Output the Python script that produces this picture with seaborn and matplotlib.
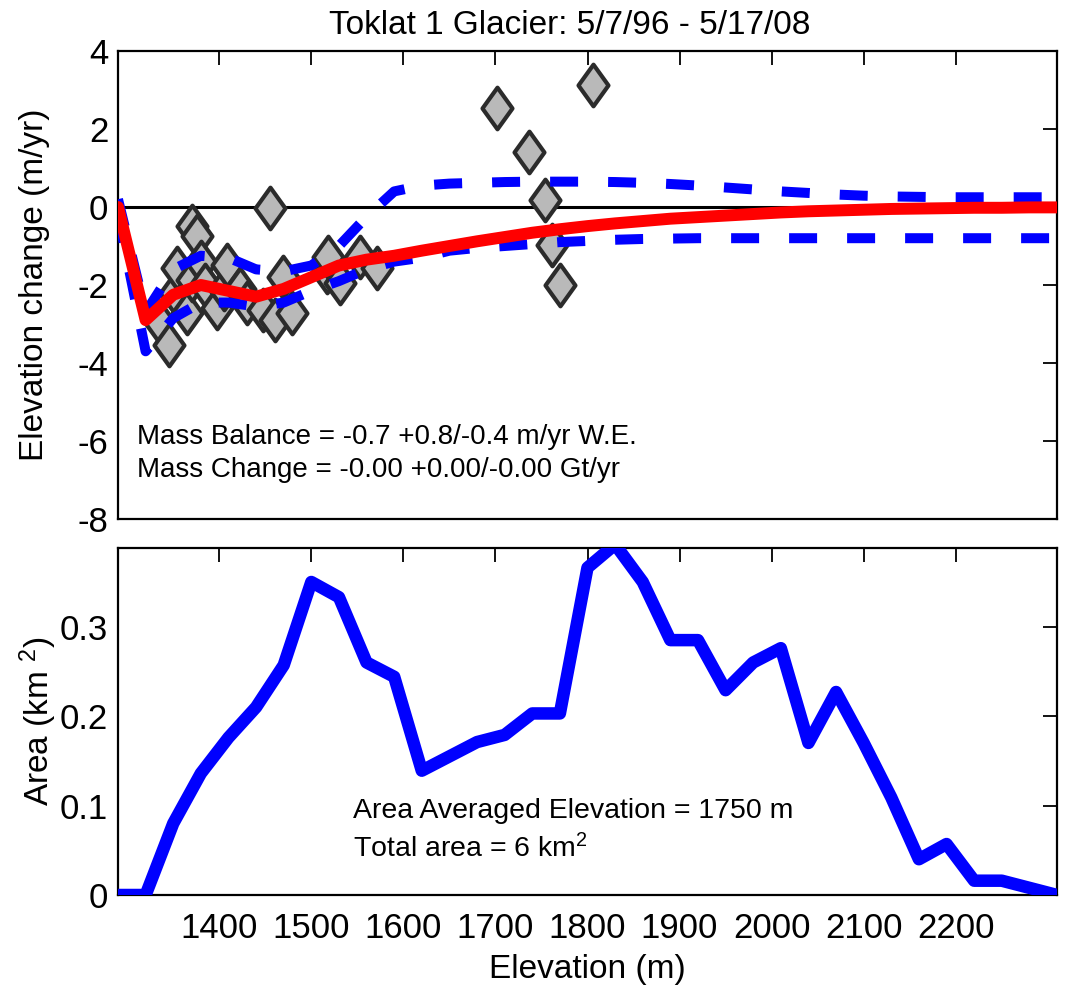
import matplotlib
matplotlib.use("Agg")
import matplotlib.pyplot as plt
from matplotlib.path import Path
import seaborn as sns

# ---------------- data ----------------
title = "Toklat 1 Glacier: 5/7/96 - 5/17/08"

elev_bins = [1290, 1320, 1350, 1380, 1410, 1440, 1470, 1500, 1530, 1560,
             1590, 1620, 1650, 1680, 1710, 1740, 1770, 1800, 1830, 1860,
             1890, 1920, 1950, 1980, 2010, 2040, 2070, 2100, 2130, 2160,
             2190, 2220, 2250, 2280, 2310]

area_km2 = [0.0, 0.0, 0.080, 0.136, 0.176, 0.210, 0.257, 0.350, 0.333, 0.260,
            0.244, 0.139, 0.155, 0.171, 0.179, 0.203, 0.203, 0.366, 0.392, 0.350,
            0.285, 0.285, 0.229, 0.260, 0.276, 0.170, 0.227, 0.170, 0.109, 0.040,
            0.057, 0.016, 0.016, 0.008, 0.0]

dh_mean = [0.0, -2.9, -2.25, -2.0, -2.15, -2.3, -2.1, -1.8, -1.5, -1.35,
           -1.25, -1.12, -1.0, -0.88, -0.77, -0.66, -0.57, -0.49, -0.42, -0.36,
           -0.30, -0.26, -0.22, -0.18, -0.14, -0.11, -0.09, -0.07, -0.05, -0.04,
           -0.03, -0.02, -0.02, -0.01, -0.01]

dh_upper = [0.2, -2.7, -1.6, -1.25, -1.3, -1.6, -1.65, -1.5, -1.0, -0.25,
            0.4, 0.55, 0.6, 0.62, 0.64, 0.65, 0.65, 0.65, 0.64, 0.62,
            0.59, 0.55, 0.5, 0.45, 0.4, 0.36, 0.32, 0.29, 0.27, 0.26,
            0.25, 0.25, 0.25, 0.25, 0.25]

dh_lower = [-0.2, -3.7, -2.85, -2.45, -2.45, -2.55, -2.45, -2.15, -1.9, -1.6,
            -1.4, -1.3, -1.12, -1.05, -1.0, -0.95, -0.9, -0.87, -0.84, -0.82,
            -0.81, -0.8, -0.8, -0.8, -0.8, -0.8, -0.8, -0.8, -0.8, -0.8,
            -0.8, -0.8, -0.8, -0.8, -0.8]

pt_elev = [1333, 1345, 1352, 1354, 1365, 1370, 1370, 1376, 1380, 1385,
           1397, 1405, 1408, 1422, 1430, 1448, 1455, 1460, 1469, 1479,
           1517, 1518, 1531, 1553, 1571, 1702, 1736, 1754, 1761, 1770, 1806]
pt_dh = [-2.9, -3.54, -2.2, -1.57, -2.73, -1.87, -0.48, -0.74, -1.4, -2.0,
         -2.6, -2.1, -1.49, -2.1, -2.46, -2.64, -0.03, -2.9, -1.79, -2.73,
         -1.66, -1.27, -1.95, -1.27, -1.57, 2.54, 1.41, 0.18, -0.97, -2.0, 3.13]

x_ticks = [1400, 1500, 1600, 1700, 1800, 1900, 2000, 2100, 2200]
y_ticks_top = [4, 2, 0, -2, -4, -6, -8]
y_ticks_bottom = [0, 0.1, 0.2, 0.3]
y_ticklabels_bottom = ["0", "0.1", "0.2", "0.3"]

text_mb = "Mass Balance = -0.7 +0.8/-0.4 m/yr W.E."
text_mc = "Mass Change = -0.00 +0.00/-0.00 Gt/yr"
text_ae = "Area Averaged Elevation = 1750 m"
text_ta = "Total area = 6 km$^2$"

# ---------------- style ----------------
sns.set_style("white")
plt.rcParams["font.family"] = ["Liberation Sans", "DejaVu Sans"]
plt.rcParams["mathtext.fontset"] = "custom"
plt.rcParams["mathtext.rm"] = "Liberation Sans"
plt.rcParams["mathtext.it"] = "Liberation Sans:italic"
plt.rcParams["axes.unicode_minus"] = False
plt.rcParams["text.color"] = "black"
plt.rcParams["axes.labelcolor"] = "black"

fig = plt.figure(figsize=(10.66, 9.94), dpi=100)
ax1 = fig.add_axes([118 / 1066, 1 - 519 / 994, 939 / 1066, 468 / 994])
ax2 = fig.add_axes([118 / 1066, 1 - 895 / 994, 939 / 1066, 347 / 994])

# ---------------- top panel ----------------
ax1.axhline(0, color="black", lw=2.2, zorder=1)

diamond = Path([(0, 1), (0.72, 0), (0, -1), (-0.72, 0), (0, 1)],
               [Path.MOVETO, Path.LINETO, Path.LINETO, Path.LINETO, Path.CLOSEPOLY])
sns.scatterplot(x=pt_elev, y=pt_dh, ax=ax1, marker=diamond, s=900,
                color="#b9b9b9", edgecolor="#2b2b2b", linewidth=3.0,
                zorder=2, legend=False)

sns.lineplot(x=elev_bins, y=dh_upper, ax=ax1, color="#0000ff", lw=7.2,
             linestyle=(0, (2.8, 3.0)), errorbar=None, zorder=3)
sns.lineplot(x=elev_bins, y=dh_lower, ax=ax1, color="#0000ff", lw=7.2,
             linestyle=(0, (2.8, 3.0)), errorbar=None, zorder=3)
sns.lineplot(x=elev_bins, y=dh_mean, ax=ax1, color="#ff0000", lw=8.6,
             errorbar=None, zorder=4)

ax1.set_xlim(1290, 2310)
ax1.set_ylim(-8, 4)
ax1.set_xticks(x_ticks)
ax1.set_xticklabels([])
ax1.set_yticks(y_ticks_top)
ax1.set_yticklabels([str(v) for v in y_ticks_top])
ax1.set_ylabel("Elevation change (m/yr)", fontsize=24, labelpad=20)
ax1.set_xlabel("")

ax1.text(1311, -5.9, text_mb, fontsize=20, ha="left", va="center")
ax1.text(1311, -6.75, text_mc, fontsize=20, ha="left", va="center")

fig.text(570 / 1066, 1 - 26 / 994, title, fontsize=24, ha="center", va="center")

# ---------------- bottom panel ----------------
sns.lineplot(x=elev_bins, y=area_km2, ax=ax2, color="#0000ff", lw=9,
             errorbar=None, zorder=3)
ax2.set_xlim(1290, 2310)
ax2.set_ylim(0, 0.388)
ax2.set_xticks(x_ticks)
ax2.set_xticklabels([str(v) for v in x_ticks])
ax2.set_yticks(y_ticks_bottom)
ax2.set_yticklabels(y_ticklabels_bottom)
ax2.set_xlabel("Elevation (m)", fontsize=24, labelpad=7)
ax2.set_ylabel("Area (km $^2$)", fontsize=24, labelpad=1)

ax2.text(1545, 0.094, text_ae, fontsize=20.5, ha="left", va="center")
ax2.text(1545, 0.052, text_ta, fontsize=20.5, ha="left", va="center")

for ax in (ax1, ax2):
    ax.tick_params(direction="in", length=10, width=1.3, top=True, right=True,
                   labelsize=25, color="black", labelcolor="black")
    ax.tick_params(axis="x", pad=12)
    ax.tick_params(axis="y", pad=7)
    for sp in ax.spines.values():
        sp.set_color("black")
        sp.set_linewidth(1.6)
        sp.set_visible(True)

fig.savefig("out.png", dpi=100, facecolor="white")
